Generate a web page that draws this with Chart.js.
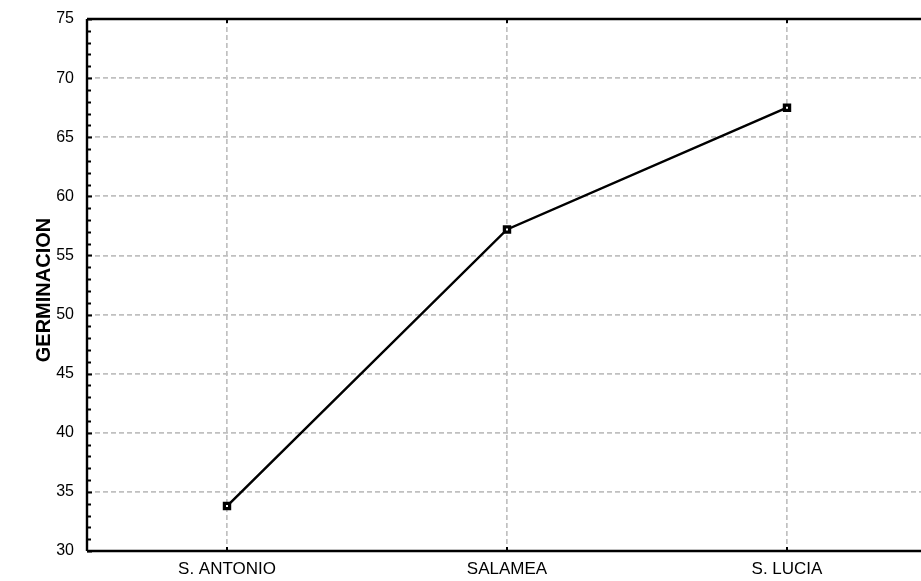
<!DOCTYPE html>
<html>
<head>
<meta charset="utf-8">
<script src="https://cdn.jsdelivr.net/npm/chart.js@4"></script>
<style>
  html, body { margin: 0; padding: 0; background: #fff; overflow: hidden; }
  #wrap { width: 930px; height: 581px; position: relative; }
</style>
</head>
<body>
<div id="wrap"><canvas id="c" width="930" height="581"></canvas></div>
<script>
// Germination by locality
const categories = ['S. ANTONIO', 'SALAMEA', 'S. LUCIA'];
const germinacion = [33.8, 57.2, 67.5];
const yMin = 30, yMax = 75, yStep = 5;
const yTitle = 'GERMINACION';

const FONT = 'Arial, "Liberation Sans", sans-serif';

// Axis frame with inward major/minor ticks, plus the vertical axis title
const framePlugin = {
  id: 'frame',
  afterDatasetsDraw(chart) {
    const { ctx, chartArea: a, scales } = chart;
    const y = scales.y, x = scales.x;
    ctx.save();
    ctx.strokeStyle = '#000';
    ctx.lineWidth = 2.4;
    ctx.beginPath();
    ctx.moveTo(a.left, a.top); ctx.lineTo(a.right, a.top);
    ctx.moveTo(a.left, a.top); ctx.lineTo(a.left, a.bottom);
    ctx.moveTo(a.left, a.bottom); ctx.lineTo(a.right, a.bottom);
    ctx.stroke();
    ctx.lineWidth = 2;
    ctx.beginPath();
    for (let v = yMin; v <= yMax; v += 1) {
      const py = Math.round(y.getPixelForValue(v)) + 0.5;
      const len = (v % yStep === 0) ? 5 : 4;
      ctx.moveTo(a.left, py); ctx.lineTo(a.left + len, py);
    }
    for (let i = 0; i < categories.length; i++) {
      const px = x.getPixelForValue(i);
      ctx.moveTo(px, a.bottom); ctx.lineTo(px, a.bottom - 4);
      ctx.moveTo(px, a.top); ctx.lineTo(px, a.top + 4);
    }
    ctx.stroke();

    // rotated axis title
    ctx.translate(44, (a.top + a.bottom) / 2 + 5);
    ctx.rotate(-Math.PI / 2);
    ctx.fillStyle = '#000';
    ctx.font = 'bold 20px ' + FONT;
    ctx.textAlign = 'center';
    ctx.textBaseline = 'middle';
    ctx.fillText(yTitle, 0, 0);
    ctx.restore();
  }
};

new Chart(document.getElementById('c'), {
  type: 'line',
  data: {
    labels: categories,
    datasets: [{
      data: germinacion,
      borderColor: '#000',
      borderWidth: 2.5,
      tension: 0,
      pointStyle: 'rect',
      pointRadius: 3.7,
      pointBorderWidth: 3.2,
      pointBackgroundColor: '#fff',
      pointBorderColor: '#000'
    }]
  },
  options: {
    responsive: false,
    animation: false,
    layout: { autoPadding: false, padding: { top: 19, right: 3, left: 0, bottom: 0 } },
    plugins: { legend: { display: false }, tooltip: { enabled: false } },
    scales: {
      x: {
        offset: true,
        grid: { display: true, color: '#c0c0c0', lineWidth: 1.7, drawTicks: false, offset: false },
        border: { display: false, dash: [5, 3] },
        ticks: { color: '#000', font: { family: FONT, size: 17 }, padding: 8, maxRotation: 0 },
        afterFit(s) { s.height = 30; }
      },
      y: {
        min: yMin, max: yMax,
        grid: { color: '#c0c0c0', lineWidth: 1.7, drawTicks: false },
        border: { display: false, dash: [5, 3] },
        ticks: { stepSize: yStep, color: '#000', font: { family: FONT, size: 16, lineHeight: 0.6 }, padding: 13 },
        afterFit(s) { s.width = 87; s.paddingTop = 0; s.paddingBottom = 0; }
      }
    }
  },
  plugins: [framePlugin]
});
</script>
</body>
</html>
